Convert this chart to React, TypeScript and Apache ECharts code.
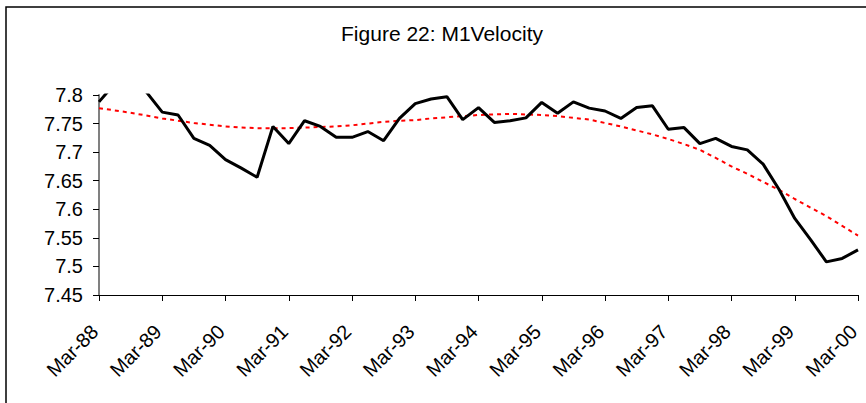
import React, { useEffect, useRef } from "react";
import * as echarts from "echarts";

const quarters = [
  "Mar-88", "Jun-88", "Sep-88", "Dec-88",
  "Mar-89", "Jun-89", "Sep-89", "Dec-89",
  "Mar-90", "Jun-90", "Sep-90", "Dec-90",
  "Mar-91", "Jun-91", "Sep-91", "Dec-91",
  "Mar-92", "Jun-92", "Sep-92", "Dec-92",
  "Mar-93", "Jun-93", "Sep-93", "Dec-93",
  "Mar-94", "Jun-94", "Sep-94", "Dec-94",
  "Mar-95", "Jun-95", "Sep-95", "Dec-95",
  "Mar-96", "Jun-96", "Sep-96", "Dec-96",
  "Mar-97", "Jun-97", "Sep-97", "Dec-97",
  "Mar-98", "Jun-98", "Sep-98", "Dec-98",
  "Mar-99", "Jun-99", "Sep-99", "Dec-99",
  "Mar-00",
];

const velocity = [
  7.788, 7.82, 7.83, 7.805, 7.77, 7.765, 7.724, 7.712, 7.687, 7.672,
  7.656, 7.745, 7.715, 7.755, 7.745, 7.726, 7.726, 7.736, 7.72, 7.759,
  7.785, 7.793, 7.797, 7.757, 7.778, 7.752, 7.755, 7.76, 7.787, 7.768,
  7.788, 7.777, 7.772, 7.759, 7.778, 7.781, 7.74, 7.743, 7.715, 7.724,
  7.71, 7.704, 7.679, 7.635, 7.584, 7.547, 7.508, 7.514, 7.529,
];

const trend = [
  7.777, 7.773, 7.769, 7.764, 7.759, 7.755, 7.751, 7.748, 7.745, 7.743,
  7.742, 7.742, 7.742, 7.743, 7.744, 7.745, 7.747, 7.75, 7.753, 7.755,
  7.756, 7.759, 7.761, 7.763, 7.765, 7.766, 7.767, 7.766, 7.765, 7.763,
  7.76, 7.757, 7.751, 7.745, 7.738, 7.731, 7.723, 7.714, 7.704, 7.69,
  7.675, 7.662, 7.648, 7.634, 7.618, 7.603, 7.588, 7.571, 7.554,
];

const yMin = 7.45;
const yMax = 7.8;
const yStep = 0.05;
const titleText = "Figure 22: M1Velocity";
const FONT = "'Liberation Sans', Arial, sans-serif";

export default function App() {
  const ref = useRef<HTMLDivElement>(null);
  useEffect(() => {
    if (!ref.current) return;
    const chart = echarts.init(ref.current, undefined, { renderer: "svg" });
    chart.setOption({
      animation: false,
      backgroundColor: "#ffffff",
      textStyle: { fontFamily: FONT },
      graphic: [
        {
          type: "rect",
          shape: { x: 6, y: 7, width: 900, height: 450 },
          style: { fill: "none", stroke: "#000", lineWidth: 1.5 },
          silent: true,
        },
        {
          type: "text",
          x: 442,
          y: 33,
          style: {
            text: titleText,
            fill: "#000",
            font: `21px ${FONT}`,
            textAlign: "center",
            textVerticalAlign: "middle",
          },
        },
      ],
      grid: { left: 99, right: 8, top: 95, bottom: 108, containLabel: false },
      xAxis: {
        type: "category",
        data: quarters,
        boundaryGap: false,
        axisLine: { show: true, lineStyle: { color: "#000", width: 1 } },
        axisTick: { show: true, interval: 3, length: 6, lineStyle: { color: "#000" } },
        axisLabel: {
          interval: 3,
          rotate: 45,
          margin: 29,
          padding: [0, 6, 0, 0],
          color: "#000",
          fontSize: 20,
          fontFamily: FONT,
        },
        splitLine: { show: false },
      },
      yAxis: {
        type: "value",
        min: yMin,
        max: yMax,
        interval: yStep,
        axisLine: { show: true, lineStyle: { color: "#808080", width: 2 } },
        axisTick: { show: true, length: 6, lineStyle: { color: "#000" } },
        axisLabel: {
          color: "#000",
          fontSize: 20,
          fontFamily: FONT,
          margin: 16,
          formatter: (v: number) => String(Math.round(v * 100) / 100),
        },
        splitLine: { show: false },
      },
      series: [
        {
          name: "M1 Velocity",
          type: "line",
          data: velocity,
          showSymbol: false,
          symbol: "none",
          clip: true,
          lineStyle: { color: "#000", width: 3 },
          z: 3,
        },
        {
          name: "Trend",
          type: "line",
          data: trend,
          showSymbol: false,
          symbol: "none",
          clip: true,
          smooth: false,
          lineStyle: { color: "#ff0000", width: 2, type: [4, 4] },
          z: 2,
        },
      ],
    });
    return () => chart.dispose();
  }, []);
  return (
    <div
      ref={ref}
      style={{ position: "fixed", left: 0, top: 0, width: 866, height: 403, background: "#fff" }}
    />
  );
}
